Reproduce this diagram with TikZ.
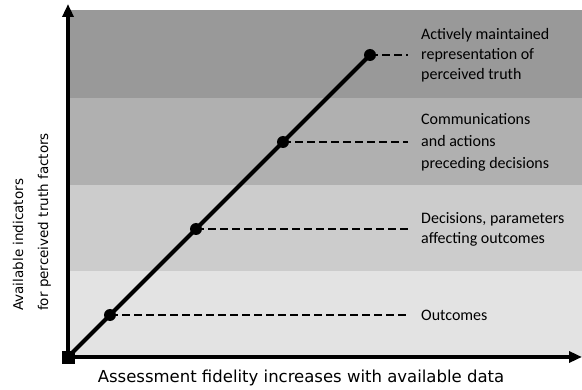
\documentclass[tikz,border=0pt]{standalone}
\usepackage{fontspec}
\setmainfont{Carlito}
\newfontfamily\axisfont{DejaVu Sans}
\usetikzlibrary{arrows.meta}

\begin{document}
\begin{tikzpicture}[%
    x=1pt, y=1pt,
    band/.style={
      draw=none,
      fill=#1
    },
    axis/.style={
      draw,
      line width=4pt,
      -{Triangle[length=13pt,width=11pt]}
    },
    trend/.style={
      draw,
      line width=4pt
    },
    dot/.style={
      circle,
      fill=black,
      inner sep=0pt,
      minimum size=12pt
    },
    origin/.style={
      rectangle,
      fill=black,
      inner sep=0pt,
      minimum size=13pt
    },
    guide/.style={
      draw,
      line width=2pt,
      dash pattern=on 8pt off 4pt,
      shorten >=13pt
    },
    tag/.style={
      anchor=west,
      align=left,
      inner sep=0pt,
      font=\fontsize{16}{20}\selectfont
    },
    axislabel/.style={
      align=left,
      inner sep=0pt,
      font=\axisfont\fontsize{13.5}{25}\selectfont
    }
  ]
    \useasboundingbox (0,0) rectangle (582,389);

    \fill[band=black!40] (68,291) rectangle (582,379);
    \fill[band=black!31] (68,204) rectangle (582,291);
    \fill[band=black!20] (68,118) rectangle (582,204);
    \fill[band=black!11] (68,32) rectangle (582,118);

    \coordinate (ytip) at (68,385);
    \coordinate (xtip) at (582,32);
    \draw (68,32) node[origin] (O) {};
    \draw[axis] (O.center) -- (ytip);
    \draw[axis] (O.center) -- (xtip);

    \draw (110,74) node[dot] (p1) {};
    \draw (196,160) node[dot] (p2) {};
    \draw (283,247) node[dot] (p3) {};
    \draw (370,334) node[dot] (p4) {};
    \draw[trend] (O.center) -- (p4.center);

    \draw (421,74) node[tag] (t1) {Outcomes};
    \draw (421,160) node[tag] (t2) {Decisions, parameters\\affecting outcomes};
    \draw (421,247) node[tag,font=\fontsize{16}{22}\selectfont] (t3) {Communications\\and actions\\preceding decisions};
    \draw (421,334) node[tag] (t4) {Actively maintained\\representation of\\perceived truth};

    \draw[guide] (p1.center) -- (t1.west);
    \draw[guide] (p2.center) -- (t2.west);
    \draw[guide] (p3.center) -- (t3.west);
    \draw[guide] (p4.center) -- (t4.west);

    \draw (301,11) node[axislabel,font=\axisfont\fontsize{16.5}{20}\selectfont] (xlab) {Assessment fidelity increases with available data};
    \draw (32,78) node[axislabel,rotate=90,anchor=west] (ylab) {Available indicators\\for perceived truth factors};
  \end{tikzpicture}
\end{document}
